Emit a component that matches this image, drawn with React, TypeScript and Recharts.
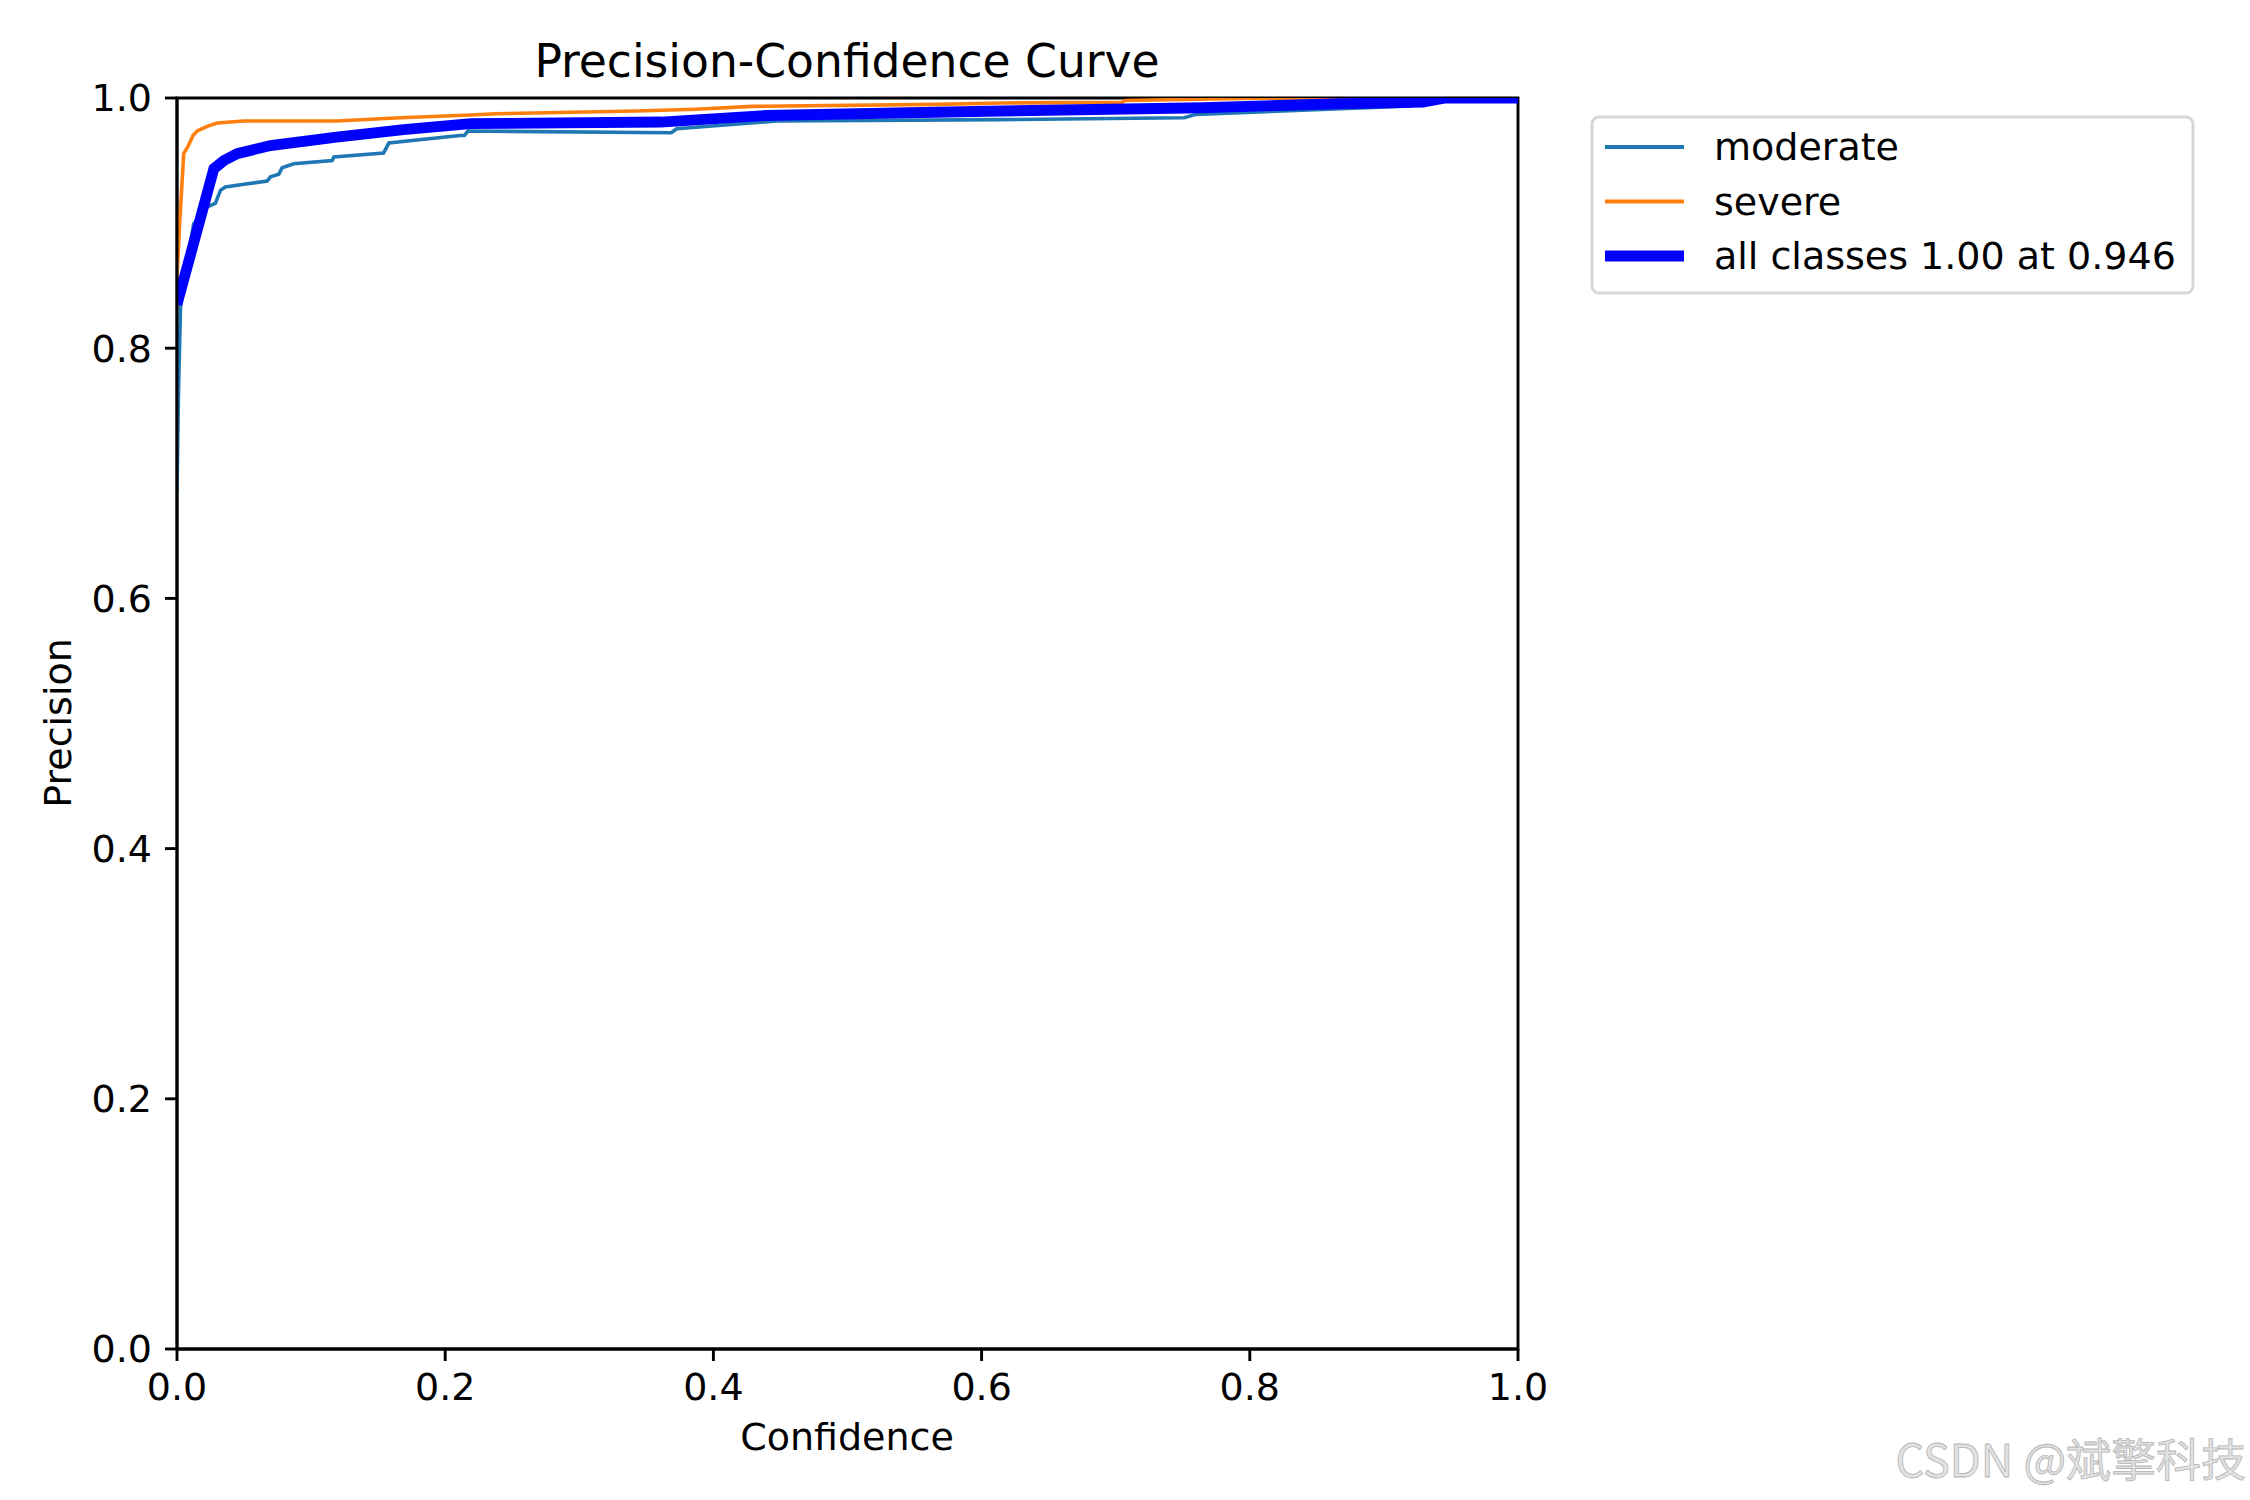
import { LineChart, Line, XAxis, YAxis, ReferenceArea } from 'recharts'

// [confidence, precision] pairs
const moderatePoints: [number, number][] = [
  [0, 0.685], [0.001, 0.76], [0.0026, 0.833], [0.006, 0.86], [0.0125, 0.8995],
  [0.0225, 0.9128], [0.0287, 0.916], [0.0324, 0.9262], [0.036, 0.9288], [0.05, 0.931],
  [0.0672, 0.9336], [0.0697, 0.937], [0.0759, 0.939], [0.0784, 0.9443], [0.087, 0.9475],
  [0.1157, 0.95], [0.117, 0.9528], [0.154, 0.956], [0.158, 0.964], [0.211, 0.97],
  [0.2143, 0.9701], [0.217, 0.9736], [0.3686, 0.9722], [0.3726, 0.9754], [0.447, 0.9816],
  [0.614, 0.9827], [0.751, 0.9842], [0.76, 0.9869], [0.92, 0.9935], [0.921, 1.0], [1.0, 1.0],
]

const severePoints: [number, number][] = [
  [0, 0.857], [0.002, 0.9], [0.005, 0.9555], [0.0085, 0.962], [0.012, 0.97],
  [0.015, 0.9736], [0.0225, 0.9773], [0.03, 0.98], [0.0497, 0.9816], [0.119, 0.9816],
  [0.1666, 0.9842], [0.219, 0.9864], [0.238, 0.9874], [0.3425, 0.9896], [0.387, 0.991],
  [0.4289, 0.9933], [0.567, 0.9949], [0.614, 0.996], [0.7046, 0.9965], [0.707, 0.998],
  [0.8155, 1.0], [1.0, 1.0],
]

const allClassesPoints: [number, number][] = [
  [0, 0.835], [0.0275, 0.9435], [0.035, 0.95], [0.0449, 0.9555], [0.0697, 0.962],
  [0.119, 0.9688], [0.169, 0.9747], [0.219, 0.9795], [0.3608, 0.9808], [0.439, 0.986],
  [0.614, 0.9896], [0.765, 0.9922], [0.866, 0.9954], [0.929, 0.9967], [0.946, 1.0], [1.0, 1.0],
]

const xTicks = [0, 0.2, 0.4, 0.6, 0.8, 1.0]
const yTicks = [0, 0.2, 0.4, 0.6, 0.8, 1.0]

const legendItems = [
  { label: 'moderate', color: '#1f77b4', width: 3.8 },
  { label: 'severe', color: '#ff7f0e', width: 3.8 },
  { label: 'all classes 1.00 at 0.946', color: '#0000ff', width: 11 },
]

const toRows = (pts: [number, number][]) => pts.map(([conf, prec]) => ({ conf, prec }))

const FONT = '"DejaVu Sans", sans-serif'
const tickStyle = { fontSize: 38, fill: '#000', fontFamily: FONT }

export default function App() {
  return (
    <div style={{ position: 'absolute', left: 0, top: 0, width: 2250, height: 1500, background: '#fff' }}>
      <LineChart width={2250} height={1500} margin={{ top: 98, right: 732, bottom: 0, left: 0 }}>
        <XAxis
          dataKey="conf"
          type="number"
          domain={[0, 1]}
          ticks={xTicks}
          tickFormatter={(v) => v.toFixed(1)}
          height={151}
          tickSize={12}
          tickMargin={12}
          tick={tickStyle}
          axisLine={{ stroke: '#000', strokeWidth: 2.9 }}
          tickLine={{ stroke: '#000', strokeWidth: 2.9 }}
          allowDataOverflow
        />
        <YAxis
          dataKey="prec"
          type="number"
          domain={[0, 1]}
          ticks={yTicks}
          tickFormatter={(v) => v.toFixed(1)}
          width={177}
          tickSize={12}
          tickMargin={13}
          tick={tickStyle}
          axisLine={{ stroke: '#000', strokeWidth: 2.9 }}
          tickLine={{ stroke: '#000', strokeWidth: 2.9 }}
          allowDataOverflow
        />
        <Line data={toRows(moderatePoints)} dataKey="prec" type="linear" stroke="#1f77b4" strokeWidth={3.6} dot={false} activeDot={false} isAnimationActive={false} />
        <Line data={toRows(severePoints)} dataKey="prec" type="linear" stroke="#ff7f0e" strokeWidth={3.6} dot={false} activeDot={false} isAnimationActive={false} />
        <Line data={toRows(allClassesPoints)} dataKey="prec" type="linear" stroke="#0000ff" strokeWidth={10.8} dot={false} activeDot={false} isAnimationActive={false} />
        <ReferenceArea x1={0} x2={1} y1={0} y2={1} fill="none" fillOpacity={0} stroke="#000" strokeWidth={2.9} ifOverflow="visible" />
      </LineChart>

      <svg width={2250} height={1500} style={{ position: 'absolute', left: 0, top: 0, pointerEvents: 'none' }}>
        <text x={847} y={77} textAnchor="middle" fontFamily={FONT} fontSize={45.6} fill="#000">
          Precision-Confidence Curve
        </text>
        <text x={847} y={1450} textAnchor="middle" fontFamily={FONT} fontSize={38} fill="#000">
          Confidence
        </text>
        <text x={71} y={723} textAnchor="middle" fontFamily={FONT} fontSize={38} fill="#000" transform="rotate(-90 71 723)">
          Precision
        </text>

        <rect x={1592} y={117} width={601} height={176} rx={7} fill="#fff" fillOpacity={0.8} stroke="#d6d6d6" strokeWidth={2.9} />
        {legendItems.map((item, i) => (
          <g key={item.label}>
            <line x1={1605} x2={1684} y1={147 + i * 54.5} y2={147 + i * 54.5} stroke={item.color} strokeWidth={item.width} />
            <text x={1714} y={160 + i * 54.5} fontFamily={FONT} fontSize={38} fill="#000">
              {item.label}
            </text>
          </g>
        ))}

        <text x={2246} y={1477} textAnchor="end" fontFamily='"Noto Sans CJK SC", sans-serif' fontSize={45} fill="#e2e2e2" stroke="#b5b5b5" strokeWidth={0.8}>
          CSDN @斌擎科技
        </text>
      </svg>
    </div>
  )
}
